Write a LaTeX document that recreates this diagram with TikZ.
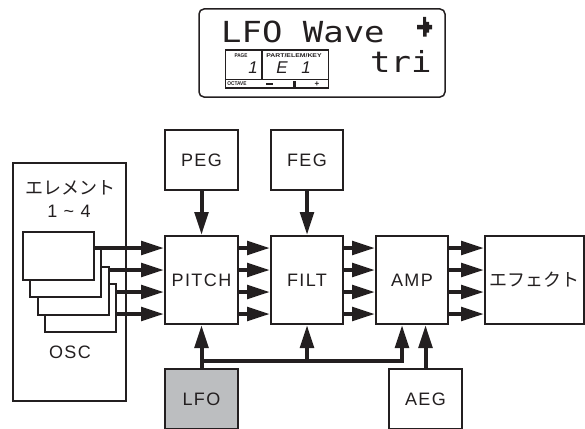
\documentclass[tikz,border=0pt]{standalone}
\usepackage{fontspec}
\usepackage{graphicx}
\setmainfont{Liberation Sans}
\newfontfamily\lab[LetterSpace=8]{Liberation Sans}
\newfontfamily\jp{Noto Sans CJK JP}
\newfontfamily\lcd[FakeStretch=1.17]{DejaVu Sans Mono}
\usetikzlibrary{arrows.meta,calc}
\definecolor{ink}{HTML}{231F20}
\definecolor{lfogray}{HTML}{BCBEC0}
\tikzset{
  blk/.style={draw=ink, line width=2pt, fill=white, inner sep=0pt, text=ink,
    font=\lab\fontsize{18}{20}\selectfont},
  lbl/.style={inner sep=0pt, text=ink, font=\lab\fontsize{18}{20}\selectfont},
  jlbl/.style={inner sep=0pt, text=ink, font=\jp\fontsize{18}{20}\selectfont},
  arr/.style={draw=ink, line width=4pt, -{Triangle[length=23pt,width=13.5pt]}},
  tiny/.style={inner sep=0pt, text=ink, font=\bfseries\fontsize{5.5}{6}\selectfont},
  seg/.style={inner sep=0pt, text=ink, font=\itshape\fontsize{17}{18}\selectfont},
  lcdtxt/.style={inner sep=0pt, text=ink, font=\lcd\fontsize{29}{30}\selectfont},
}
\begin{document}
\begin{tikzpicture}[x=1pt,y=-1pt]
\useasboundingbox (0,0) rectangle (585,428);
\clip (0,0) rectangle (585,428);

% ---------- LCD display ----------
\node[draw=ink, line width=1.5pt, rounded corners=5pt, minimum width=246pt,
      minimum height=88pt, inner sep=0pt] (lcd) at (322,53) {};
\node[lcdtxt, anchor=base west] (lfow) at (221,42) {LFO Wave};
\node[lcdtxt, anchor=base west] (tri) at (370,72) {tri};
\fill[ink] (423,17) -- (426,17) -- (426,22) -- (429,22) -- (429,25) -- (432,25)
  -- (432,29.3) -- (429,29.3) -- (429,32.7) -- (426.5,32.7) -- (426.5,36.7)
  -- (423,36.7) -- (423,29.3) -- (417,29.3) -- (417,25) -- (423,25) -- cycle;

\node[draw=ink, line width=1.2pt, minimum width=103pt, minimum height=38pt,
      inner sep=0pt] (panel) at (277,69) {};
\draw[ink, line width=1.2pt] ($(panel.south west)+(0,-9)$) -- ($(panel.south east)+(0,-9)$);
\draw[ink, line width=1.2pt] (262,50) -- (262,79);
\node[tiny] (page) at (241,55.5) {\scalebox{0.85}[1]{PAGE}};
\node[tiny] (pek) at (294,55.5) {\scalebox{1.25}[1]{PART/ELEM/KEY}};
\node[tiny] (oct) at (237,84) {\scalebox{0.87}[1]{OCTAVE}};
\node[seg] (d1) at (253,68) {1};
\node[seg] (dE) at (282,68) {E};
\node[seg] (d2) at (306,68) {1};
\fill[ink] (266,83) rectangle (272.5,85.2);
\fill[ink] (292.5,80.5) rectangle (295.5,87.5);
\node[inner sep=0pt, text=ink, font=\bfseries\fontsize{8}{9}\selectfont] (plus) at (317,84) {+};

% ---------- element block ----------
\node[blk, minimum width=113pt, minimum height=238pt] (elem) at (69.5,282) {};
\node[jlbl] (elemtxt) at (70,188) {エレメント};
\node[lbl] (range) at (69,211) {1 {\char"7E} 4};
\node[lbl] (osc) at (70,352) {OSC};
\foreach \i in {3,2,1,0}
  \node[blk, minimum width=71pt, minimum height=48pt] (c\i) at ({58.5+7.3*\i},{256+17.3*\i}) {};

% ---------- main chain ----------
\node[blk, minimum width=73pt, minimum height=60pt] (PEG) at (201.5,160) {PEG};
\node[blk, minimum width=72pt, minimum height=60pt] (FEG) at (307,160) {FEG};
\node[blk, minimum width=73pt, minimum height=88pt] (PITCH) at (201.5,280) {PITCH};
\node[blk, minimum width=72pt, minimum height=88pt] (FILT) at (307,280) {FILT};
\node[blk, minimum width=72pt, minimum height=88pt] (AMP) at (412,280) {AMP};
\node[blk, minimum width=99pt, minimum height=88pt, font=\jp\fontsize{18}{20}\selectfont] (EFX) at (534.5,280) {エフェクト};
\node[blk, fill=lfogray, minimum width=73pt, minimum height=60pt] (LFO) at (201.5,399) {LFO};
\node[blk, minimum width=73pt, minimum height=60pt] (AEG) at (425.5,399) {AEG};

\coordinate (r1) at (0,248);
\coordinate (r2) at (0,270);
\coordinate (r3) at (0,292);
\coordinate (r4) at (0,314);

\draw[arr] (c0.east |- r1) -- (PITCH.west |- r1);
\draw[arr] (c2.east |- r2) -- (PITCH.west |- r2);
\draw[arr] (c3.east |- r3) -- (PITCH.west |- r3);
\draw[arr] (c3.east |- r4) -- (PITCH.west |- r4);

\foreach \a/\b in {PITCH/FILT, FILT/AMP, AMP/EFX}
  \foreach \r in {r1,r2,r3,r4}
    \draw[arr] (\a.east |- \r) -- (\b.west |- \r);

\draw[arr] (PEG.south) -- (PITCH.north);
\draw[arr] (FEG.south) -- (FILT.north);

\coordinate (busL) at (201.5,361);
\coordinate (busR) at (402,361);
\draw[arr] (LFO.north) -- (PITCH.south);
\draw[arr] (busL) -- (busR) -- (busR |- AMP.south);
\draw[arr] (busL -| FILT.south) -- (FILT.south);
\draw[arr] (AEG.north) -- (AEG.north |- AMP.south);
\end{tikzpicture}
\end{document}
